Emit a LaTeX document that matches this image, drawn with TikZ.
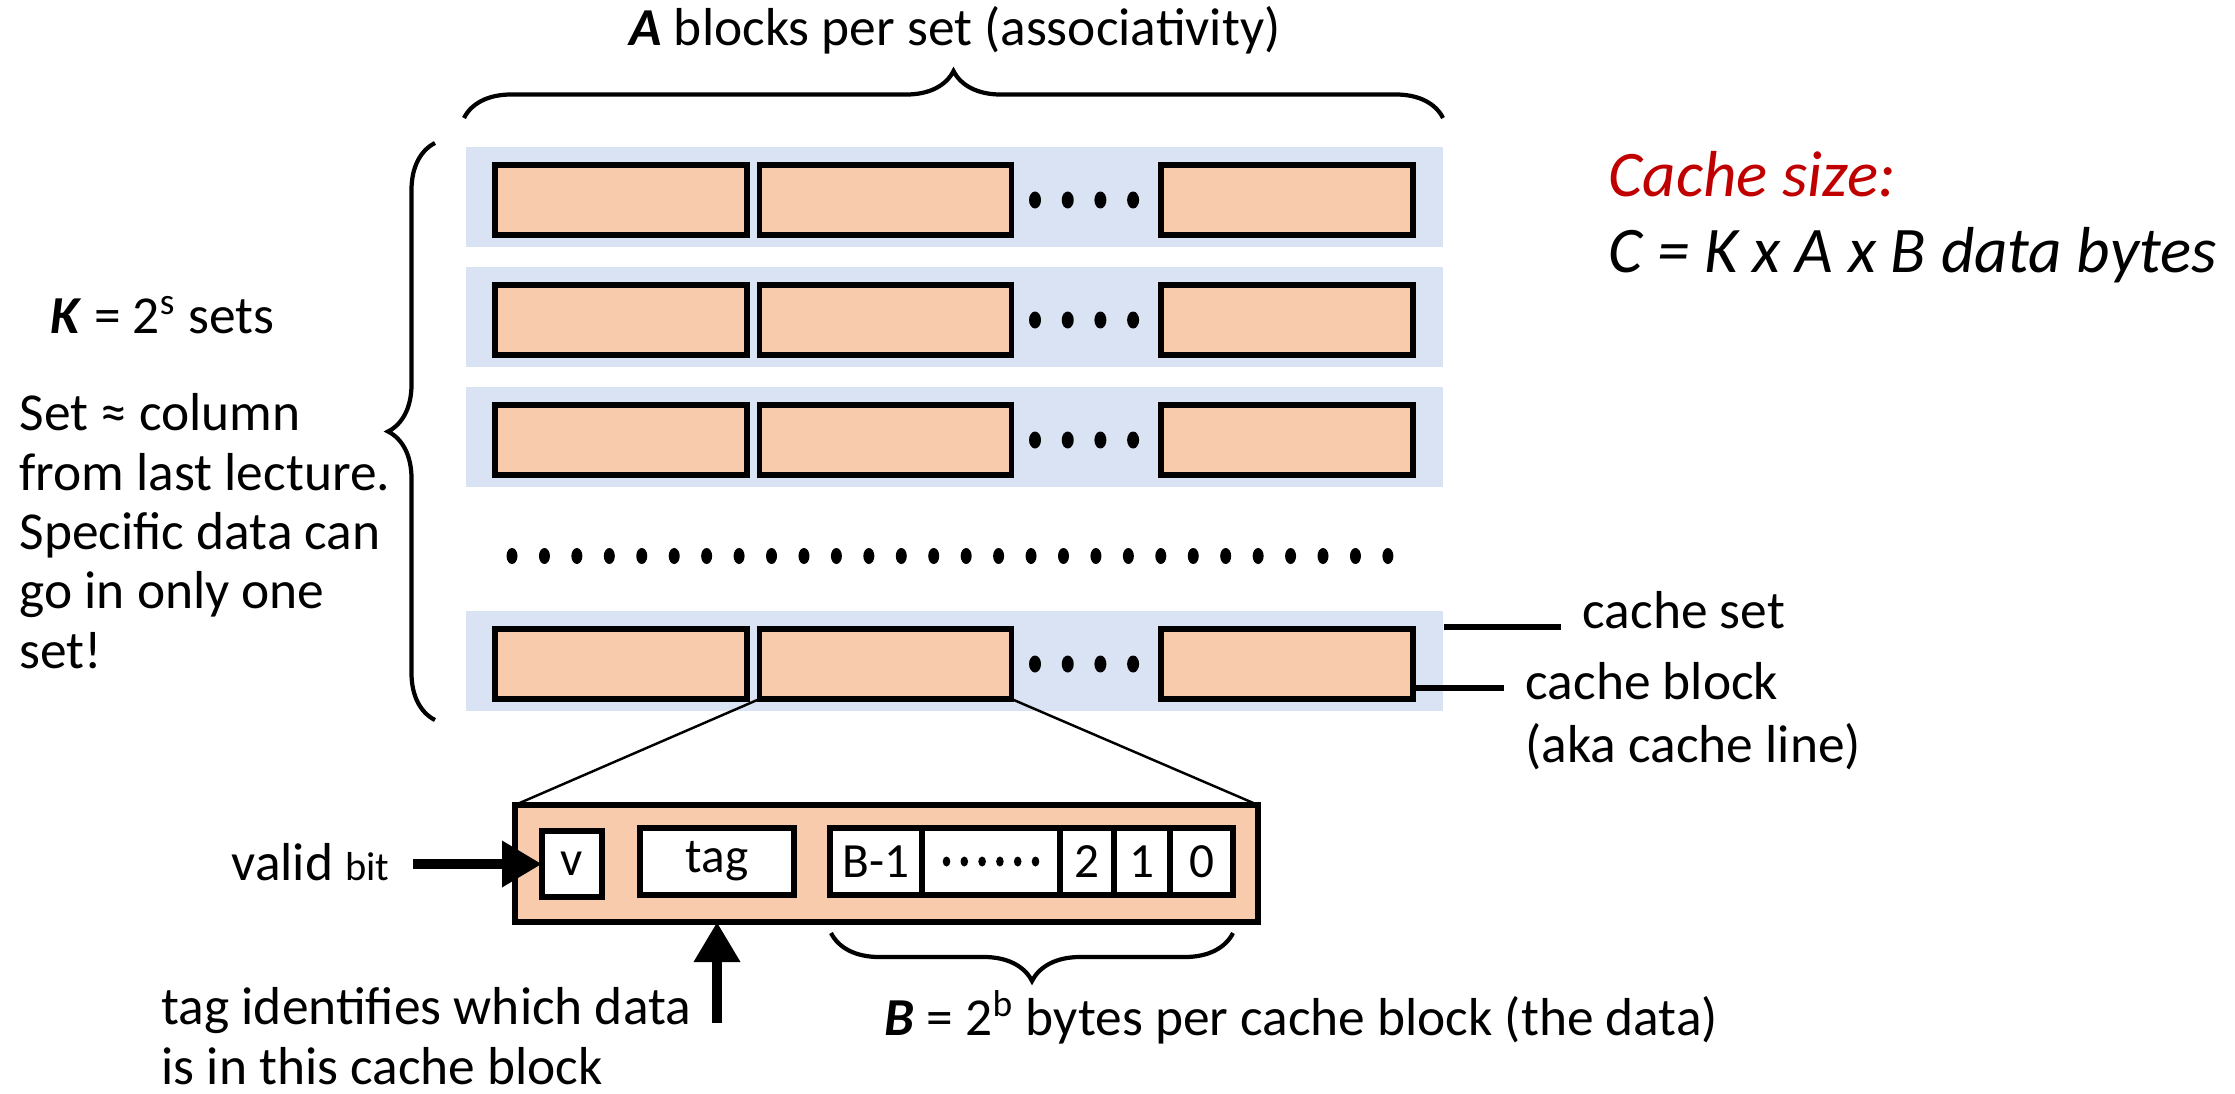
\documentclass[tikz,border=0pt]{standalone}
\usepackage{fontspec}
\setmainfont{Carlito}
\usetikzlibrary{positioning,arrows.meta,decorations.pathreplacing}
\definecolor{setblue}{RGB}{218,227,243}
\definecolor{blockorange}{RGB}{248,203,173}
\definecolor{sizered}{RGB}{192,0,0}
\begin{document}
\begin{tikzpicture}[
	lbl/.style={font=\fontsize{15.2}{16.9}\selectfont, inner sep=0pt},
	setrow/.style={fill=setblue, minimum width=9.77cm, minimum height=1cm, inner sep=0pt},
	blk/.style={draw, line width=1.5pt, fill=blockorange, minimum width=2.52cm, minimum height=0.7cm, inner sep=0pt, outer sep=0pt},
	cell/.style={draw, line width=1.5pt, fill=white, minimum height=0.67cm, inner sep=0pt, outer sep=0pt, font=\fontsize{14}{16}\selectfont},
	brc/.style={decorate, decoration={brace, amplitude=#1}, line width=1.2pt},
	lead/.style={line width=1.8pt},
	fatarrow/.style={line width=2.8pt, -{Triangle[length=0.4cm, width=0.44cm]}}]
	\useasboundingbox (0,0) rectangle (22.35,10.93);
	% the sets, each holding A blocks
	\foreach \r/\y in {1/8.96,2/7.76,3/6.56,5/4.32}{
		\node[setrow] (set\r) at (9.545,\y) {};
		\node[blk] (b\r1) at (6.21,\y-0.03) {};
		\node[blk] (b\r2) at (8.855,\y-0.03) {};
		\node[blk] (b\r3) at (12.87,\y-0.03) {};
		\foreach \d in {0,...,3}
			\fill (10.35+\d*0.327,\y-0.03) ellipse (0.06 and 0.085);
	}
	\foreach \d in {0,...,27}
		\fill (5.12+\d*0.3244,5.37) ellipse (0.055 and 0.08);
	% braces and their labels
	\draw[brc=0.47cm] (4.64,9.75) -- (14.43,9.75);
	\node[lbl, anchor=base] (assoc) at (9.55,10.48) {\textbf{\textit{A}} blocks per set (associativity)};
	\draw[brc=0.47cm] (4.35,3.73) -- (4.35,9.50);
	\node[lbl, anchor=base west] (nsets) at (0.50,7.60) {\textbf{\textit{K}} = 2\textsuperscript{s} sets};
	\node[lbl, align=left, anchor=north west] (setnote) at (0.19,7.0) {Set ≈ column\\from last lecture.\\Specific data can\\go in only one\\set!};
	% cache size
	\node[lbl, anchor=base west, font=\fontsize{18.5}{21}\selectfont, text=sizered] (sizetitle) at (16.08,8.97) {\textit{Cache size:}};
	\node[lbl, anchor=base west, font=\fontsize{18.5}{21}\selectfont] (sizeform) at (16.08,8.21) {\textit{C = K x A x B data bytes}};
	% set and block leaders
	\coordinate (setend) at (15.61,4.66);
	\coordinate (blkend) at (15.04,4.05);
	\draw[lead] (set5.east |- setend) -- (setend);
	\draw[lead] (b53.east |- blkend) -- (blkend);
	\node[lbl, anchor=base west] (setlbl) at (15.82,4.65) {cache set};
	\node[lbl, align=left, anchor=north west, font=\fontsize{15.2}{17.7}\selectfont] (blklbl) at (15.25,4.31) {cache block\\(aka cache line)};
	% one block opened up
	\node[draw, line width=1.5pt, fill=blockorange, minimum width=7.43cm, minimum height=1.17cm, inner sep=0pt, outer sep=0pt] (cline) at (8.865,2.295) {};
	\draw[line width=0.7pt] (b52.south west) -- (cline.north west);
	\draw[line width=0.7pt] (b52.south east) -- (cline.north east);
	\node[cell, minimum width=0.6cm, minimum height=0.66cm] (vbit) at (5.72,2.29) {v};
	\node[cell, minimum width=1.54cm] (tag) at (7.17,2.315) {tag};
	\node[cell, minimum width=0.92cm, anchor=west] (bytetop) at (8.30,2.315) {B-1};
	\node[cell, minimum width=1.38cm, right=0pt of bytetop] (bytedots) {};
	\node[cell, minimum width=0.54cm, right=0pt of bytedots] (byte2) {2};
	\node[cell, minimum width=0.56cm, right=0pt of byte2] (byte1) {1};
	\node[cell, minimum width=0.63cm, right=0pt of byte1] (byte0) {0};
	\foreach \d in {0,...,5}
		\fill ([xshift=(\d-2.5)*0.178cm]bytedots.center) ellipse (0.038 and 0.05);
	\draw[brc=0.48cm] (12.33,1.60) -- (8.31,1.60);
	\node[lbl, anchor=base west] (bytes) at (8.84,0.58) {\textbf{\textit{B}} = 2\textsuperscript{b} bytes per cache block (the data)};
	% valid bit and tag pointers
	\node[lbl, anchor=base east] (validlbl) at (3.90,2.13) {valid {\fontsize{11.5}{13}\selectfont bit}};
	\coordinate (validtail) at (4.13,2.29);
	\draw[fatarrow] (validtail) -- (vbit);
	\coordinate (tagtail) at (7.17,0.70);
	\draw[fatarrow] (tagtail) -- (tagtail |- cline.south);
	\node[lbl, align=left, anchor=north west] (tagnote) at (1.61,1.06) {tag identifies which data\\is in this cache block};
\end{tikzpicture}
\end{document}
